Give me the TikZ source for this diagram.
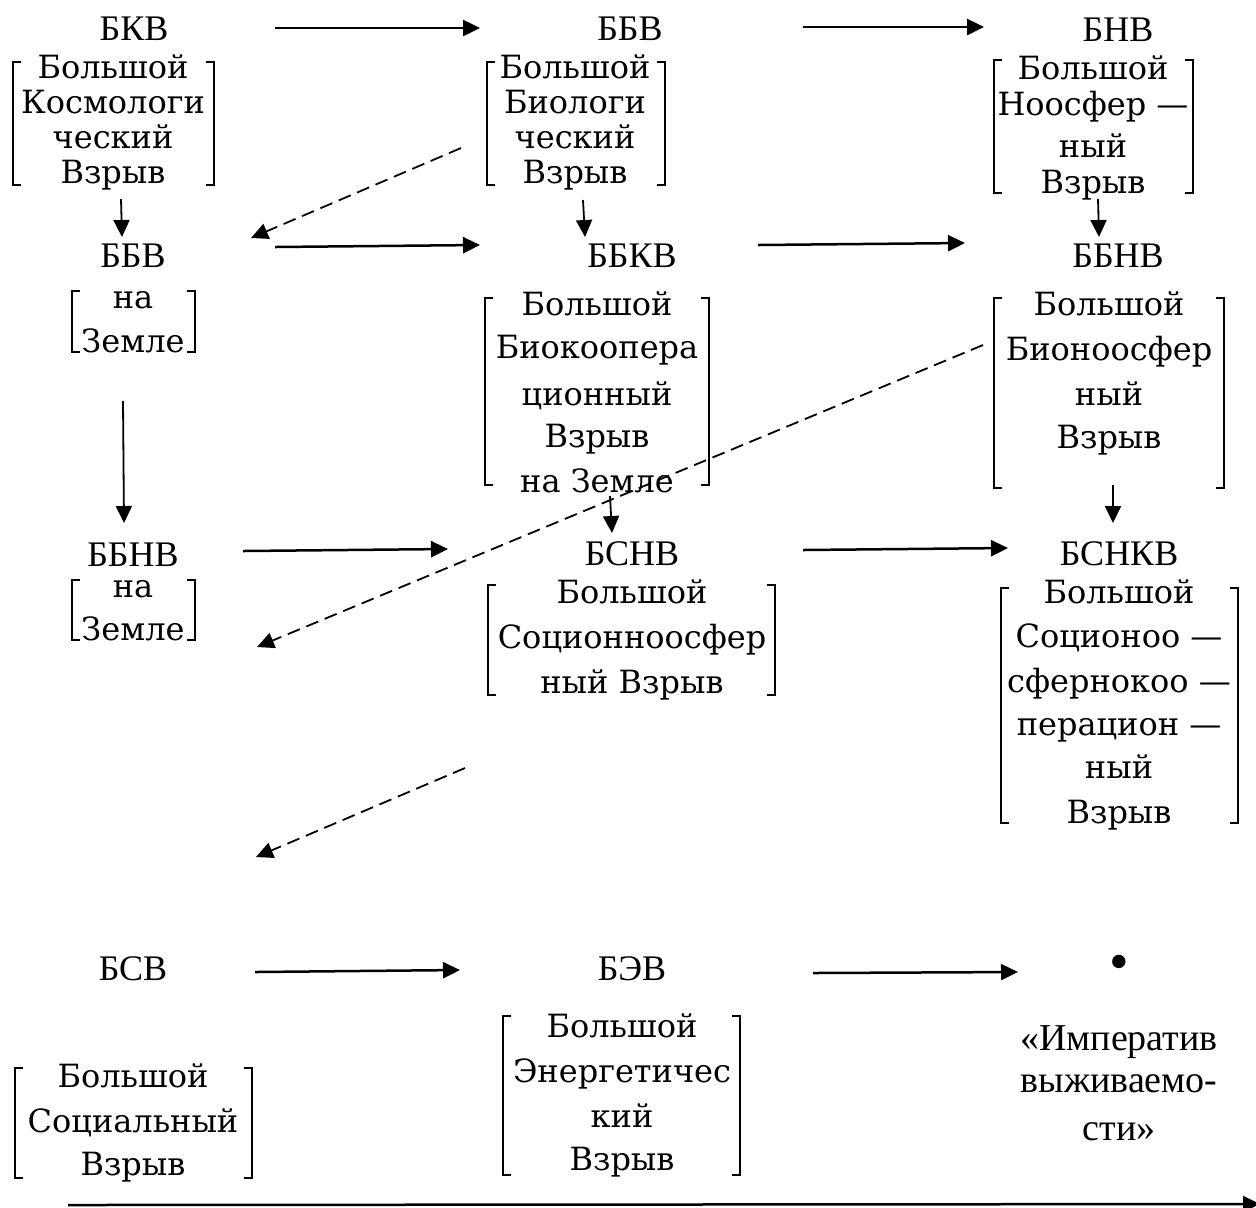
\documentclass[tikz,border=0pt]{standalone}
\usepackage{fontspec}
\setmainfont{Liberation Serif}
\newfontfamily\boxfont{DejaVu Serif}
\usetikzlibrary{arrows.meta}
\newcommand\brk[4]{% left right top bottom
  \draw[brkline] (#1+8,#3) -- (#1,#3) -- (#1,#4) -- (#1+8,#4);
  \draw[brkline] (#2-8,#3) -- (#2,#3) -- (#2,#4) -- (#2-8,#4);}
\begin{document}
\begin{tikzpicture}[x=0.5pt,y=-0.5pt,
  acr/.style={font=\fontsize{18}{20}\selectfont, inner sep=0pt, anchor=base},
  ln/.style={font=\boxfont\fontsize{16}{18}\selectfont, inner sep=0pt, anchor=base},
  tms/.style={font=\fontsize{19}{22}\selectfont, inner sep=0pt, anchor=base},
  brkline/.style={line width=1.25pt},
  arr/.style={line width=1.25pt, -{Triangle[length=8.5pt,width=8pt]}},
  darr/.style={line width=0.9pt, -{Triangle[length=8.5pt,width=8pt]}},
  dsh/.style={line width=0.9pt, dash pattern=on 6.5pt off 3.5pt, -{Triangle[length=8.5pt,width=8pt]}}]
\fill[white] (0,0) rectangle (1256,1207);
\useasboundingbox (0,0) rectangle (1256,1207);

% ---- acronyms ----
\node[acr] (BKV)   at (134,40)  {БКВ};
\node[acr] (BBV)   at (630,40)  {ББВ};
\node[acr] (BNV)   at (1118,41) {БНВ};
\node[acr] (BBV2)  at (133,267) {ББВ};
\node[acr] (BBKV)  at (632,267) {ББКВ};
\node[acr] (BBNV)  at (1118,267) {ББНВ};
\node[acr] (BBNV2) at (133,566) {ББНВ};
\node[acr] (BSNV)  at (632,565) {БСНВ};
\node[acr] (BSNKV) at (1119,565) {БСНКВ};
\node[acr] (BSV)   at (133,980) {БСВ};
\node[acr] (BEV)   at (632,980) {БЭВ};
\node[font=\fontsize{28}{30}\selectfont, inner sep=0pt, anchor=center] (dot) at (1119,968) {•};

% ---- bracketed texts ----
\foreach \t/\y [count=\i] in {Большой/78, Космологи/113, ческий/148, Взрыв/183}
  \node[ln] (k\i) at (113,\y) {\t};
\brk{13}{214}{62}{185}
\foreach \t/\y [count=\i] in {Большой/78, Биологи/113, ческий/148, Взрыв/183}
  \node[ln] (b\i) at (575,\y) {\t};
\brk{487}{665}{62}{185}
\foreach \t/\y [count=\i] in {Большой/79, Ноосфер —/115, ный/157, Взрыв/193}
  \node[ln] (n\i) at (1093,\y) {\t};
\brk{994}{1193}{60}{193}

\foreach \t/\y [count=\i] in {на/308, Земле/352}
  \node[ln] (za\i) at (133,\y) {\t};
\brk{72}{195}{291}{352}
\foreach \t/\y [count=\i] in {Большой/315, Биокоопера/358, ционный/405, Взрыв/447, на Земле/492}
  \node[ln] (bk\i) at (597,\y) {\t};
\brk{485}{709}{298}{485}
\foreach \t/\y [count=\i] in {Большой/315, Бионоосфер/360, ный/405, Взрыв/448}
  \node[ln] (bn\i) at (1109,\y) {\t};
\brk{994}{1224}{298}{488}

\foreach \t/\y [count=\i] in {на/597, Земле/640}
  \node[ln] (zb\i) at (133,\y) {\t};
\brk{72}{195}{580}{640}
\foreach \t/\y [count=\i] in {Большой/603, Соционноосфер/648, ный Взрыв/693}
  \node[ln] (sn\i) at (632,\y) {\t};
\brk{488}{775}{585}{695}
\foreach \t/\y [count=\i] in {Большой/603, Соционоо —/647, сфернокоо —/692, перацион —/735, ный/778, Взрыв/823}
  \node[ln] (snk\i) at (1119,\y) {\t};
\brk{1001}{1238}{588}{823}

\foreach \t/\y [count=\i] in {Большой/1087, Социальный/1132, Взрыв/1175}
  \node[ln] (sv\i) at (133,\y) {\t};
\brk{15}{252}{1068}{1178}
\foreach \t/\y [count=\i] in {Большой/1037, Энергетичес/1082, кий/1127, Взрыв/1170}
  \node[ln] (ev\i) at (622,\y) {\t};
\brk{503}{740}{1016}{1175}
\foreach \t/\y [count=\i] in {«Императив/1050, выживаемо-/1092, сти»/1140}
  \node[tms] (im\i) at (1119,\y) {\t};

% ---- connector ends ----
\coordinate (a1s) at (275,28);  \coordinate (a1e) at (480,28);
\coordinate (a2s) at (803,27);  \coordinate (a2e) at (984,27);
\coordinate (a3s) at (275,247); \coordinate (a3e) at (480,245);
\coordinate (a4s) at (758,245); \coordinate (a4e) at (965,243);
\coordinate (a5s) at (243,551); \coordinate (a5e) at (448,549);
\coordinate (a6s) at (803,550); \coordinate (a6e) at (1008,548);
\coordinate (a7s) at (255,972); \coordinate (a7e) at (460,970);
\coordinate (a8s) at (813,973); \coordinate (a8e) at (1018,972);
\coordinate (a9s) at (68,1205); \coordinate (a9e) at (1260,1204);

\coordinate (d1s) at (121,199);  \coordinate (d1e) at (122,237);
\coordinate (d2s) at (583,200);  \coordinate (d2e) at (585,237);
\coordinate (d3s) at (1098,199); \coordinate (d3e) at (1099,237);
\coordinate (d4s) at (123,401);  \coordinate (d4e) at (124,523);
\coordinate (d5s) at (610,496);  \coordinate (d5e) at (612,533);
\coordinate (d6s) at (1113,485); \coordinate (d6e) at (1113,523);

\coordinate (e1s) at (461,148); \coordinate (e1e) at (251,238);
\coordinate (e2s) at (983,345); \coordinate (e2e) at (257,647);
\coordinate (e3s) at (465,768); \coordinate (e3e) at (256,857);

% ---- connectors ----
\foreach \n in {1,...,9} \draw[arr] (a\n s) -- (a\n e);
\foreach \n in {1,...,6} \draw[darr] (d\n s) -- (d\n e);
\foreach \n in {1,2,3} \draw[dsh] (e\n s) -- (e\n e);
\end{tikzpicture}
\end{document}
